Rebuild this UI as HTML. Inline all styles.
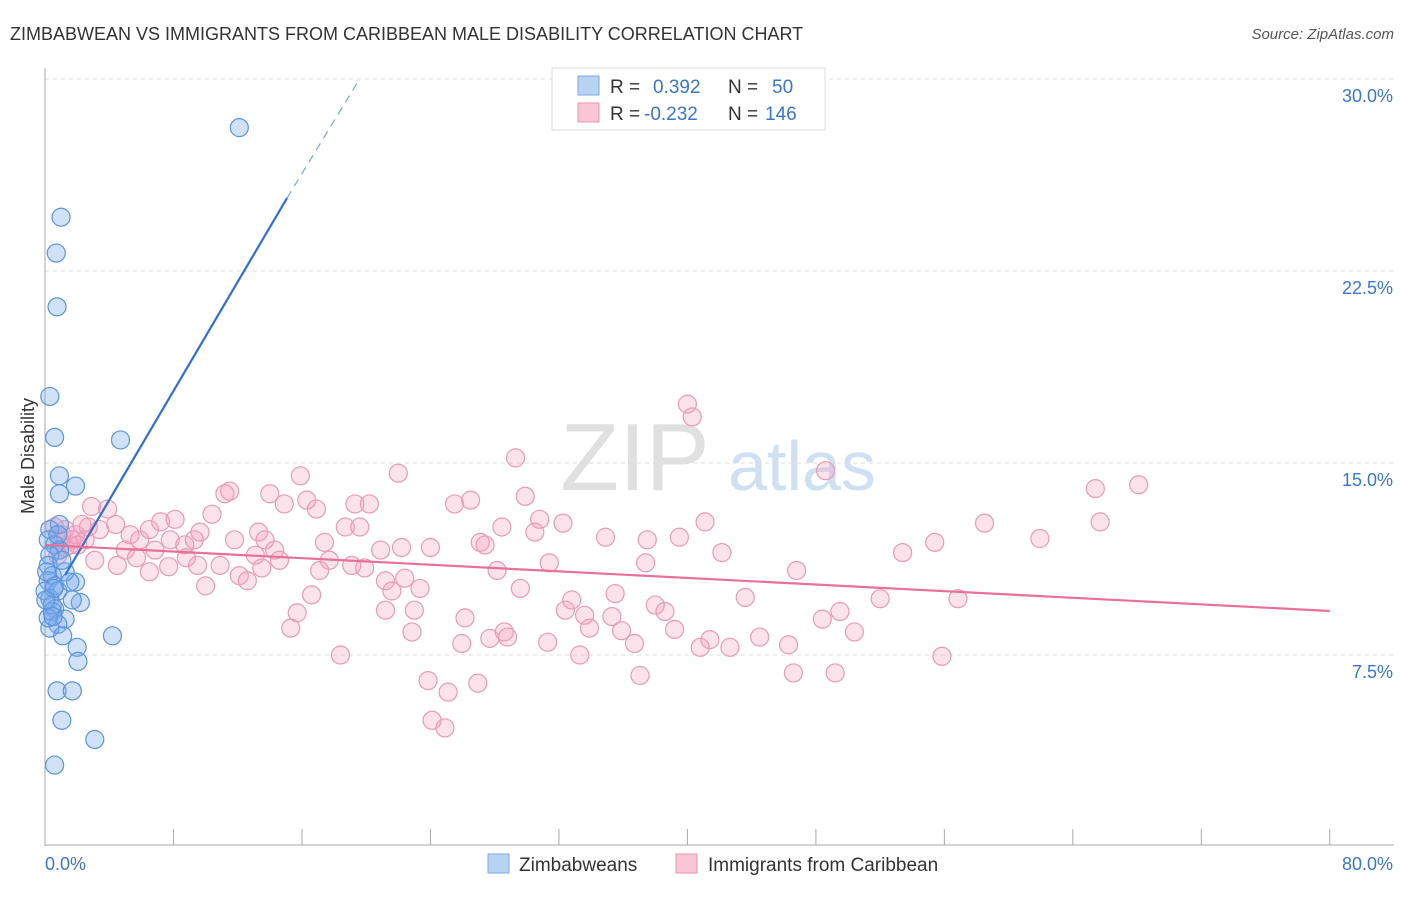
<!DOCTYPE html>
<html><head><meta charset="utf-8"><style>
body{margin:0;background:#fff;font-family:"Liberation Sans",Arial,sans-serif}
svg text{font-family:"Liberation Sans",Arial,sans-serif}
</style></head><body>
<svg id="chart" width="1406" height="892" viewBox="0 0 1406 892" xmlns="http://www.w3.org/2000/svg">
<text x="10" y="40" font-size="18" fill="#333">ZIMBABWEAN VS IMMIGRANTS FROM CARIBBEAN MALE DISABILITY CORRELATION CHART</text>
<text x="1394" y="39" font-size="15" fill="#555" text-anchor="end" font-style="italic">Source: ZipAtlas.com</text>
<g>
<text x="635" y="490" font-size="96" fill="#e0e0e0" font-family="Liberation Serif,serif" text-anchor="middle">ZIP</text>
<text x="802" y="490" font-size="70" fill="#cfe0f3" text-anchor="middle">atlas</text>
</g>
<g id="grid"></g>
<g id="axes"></g>
<g id="pts"></g>
<g id="lines"></g>
<text transform="translate(34,456) rotate(-90)" font-size="18" fill="#333" text-anchor="middle">Male Disability</text>
<g>
<rect x="552" y="68" width="273" height="62" fill="#fff" stroke="#ddd"/>
<rect x="578" y="76" width="21" height="19" fill="#b9d3f5" stroke="#7aa9e6"/>
<rect x="578" y="103" width="21" height="19" fill="#f9c6d5" stroke="#eb93b0"/>
<text x="610" y="93" font-size="19" fill="#333">R =</text>
<text x="653" y="93" font-size="19" fill="#3a76d0">0.392</text>
<text x="728" y="93" font-size="19" fill="#333">N =</text>
<text x="772" y="93" font-size="19" fill="#3a76d0">50</text>
<text x="610" y="120" font-size="19" fill="#333">R =</text>
<text x="644" y="120" font-size="19" fill="#3a76d0">-0.232</text>
<text x="728" y="120" font-size="19" fill="#333">N =</text>
<text x="765" y="120" font-size="19" fill="#3a76d0">146</text>
</g>
<g>
<rect x="488" y="854" width="21" height="19" fill="#b9d3f5" stroke="#7aa9e6"/>
<text x="519" y="871" font-size="19" fill="#333">Zimbabweans</text>
<rect x="676" y="854" width="21" height="19" fill="#f9c6d5" stroke="#eb93b0"/>
<text x="708" y="871" font-size="19" fill="#333">Immigrants from Caribbean</text>
</g>
</svg>
<script>
const yTicks=[7.5,15,22.5,30];
const yTickLabels=["7.5%","15.0%","22.5%","30.0%"];
const xTicks=[0,8,16,24,32,40,48,56,64,72,80];
const xTickLabels=["0.0%","80.0%"];
const blueX=[12.1,1.0,0.7,0.75,0.3,0.6,4.7,0.9,1.9,0.9,0.9,0.3,0.2,0.6,0.9,0.3,0.2,0.45,0.2,0.6,0,0.8,1.9,1.25,1.55,0.3,0.6,0.45,1.25,0.8,0.3,2.2,1.7,0.45,1.1,2.0,2.05,4.2,0.75,1.7,1.05,3.1,0.6,0.2,0.5,1.05,0.1,0.55,0.05,0.8];
const blueY=[28.1,24.6,23.2,21.1,17.6,16.0,15.9,14.5,14.1,13.8,12.6,12.4,12.0,11.8,11.6,11.4,11.0,10.6,10.4,10.2,10.0,10.0,10.35,10.75,10.35,9.7,9.3,9.2,8.9,8.7,8.55,9.55,9.65,9.45,8.25,7.8,7.25,8.25,6.1,6.1,4.95,4.2,3.2,8.95,9.0,11.2,10.75,10.1,9.65,12.2];
const pinkX=[2.9,3.9,2.3,3.4,4.4,2.5,1.55,0.9,1.25,1.9,5.3,5.9,5.0,4.5,5.7,6.85,6.5,7.2,8.1,7.8,8.7,9.3,9.65,10.4,11.2,11.5,10.0,10.9,11.8,12.1,12.6,13.1,13.3,13.7,13.5,14.0,14.3,14.6,14.9,15.9,16.3,16.9,17.4,17.7,17.1,16.6,15.7,15.3,18.4,18.7,19.6,19.1,19.9,19.3,20.2,20.9,21.2,21.6,21.2,22.0,22.2,22.4,23.0,22.85,23.35,24.0,23.85,24.1,24.9,25.1,25.5,26.5,26.15,25.95,26.95,27.1,27.4,27.7,28.45,28.6,28.8,28.15,29.3,29.6,29.9,30.5,30.8,31.4,31.3,32.25,32.4,32.8,33.3,33.6,33.9,34.9,35.3,35.5,35.9,36.7,37.05,37.4,37.5,38.0,38.6,39.2,39.5,40.0,40.3,40.8,41.1,41.4,42.15,42.65,43.6,44.5,46.3,46.6,46.8,48.4,48.6,49.2,49.5,50.4,52.0,53.4,55.4,55.85,56.85,58.5,61.95,65.4,65.7,68.1,0.8,1.25,1.7,2.7,2.05,0.6,1.05,3.1,6.5,7.7,9.5,8.8];
const pinkY=[13.3,13.2,12.6,12.4,12.6,12.0,11.8,12.0,12.4,12.2,12.2,12.0,11.6,11.0,11.3,11.6,12.4,12.7,12.8,12.0,11.8,12.0,12.3,13.0,13.8,13.9,10.2,11.0,12.0,10.6,10.4,11.4,12.3,12.0,10.9,13.8,11.6,11.2,13.4,14.5,13.55,13.2,11.9,11.2,10.8,9.85,9.15,8.55,7.5,12.5,12.5,11.0,10.9,13.4,13.4,11.6,10.4,10.0,9.25,14.6,11.7,10.5,9.25,8.4,10.1,11.7,6.5,4.95,4.65,6.05,13.4,13.55,8.95,7.95,6.4,11.9,11.8,8.15,12.5,8.4,8.2,10.8,15.2,10.1,13.7,12.3,12.8,11.1,8.0,12.65,9.25,9.65,7.5,9.05,8.55,12.1,9.0,9.9,8.45,7.95,6.7,11.1,12.0,9.45,9.2,8.5,12.1,17.3,16.8,7.8,12.7,8.1,11.5,7.8,9.75,8.2,7.9,6.8,10.8,8.9,14.7,6.8,9.2,8.4,9.7,11.5,11.9,7.45,9.7,12.65,12.05,14.0,12.7,14.15,11.4,11.7,12.0,12.5,11.8,12.5,12.2,11.2,10.75,10.95,11.0,11.3];
const blueLine=[1.25,10.62,15.07,25.35,19.43,29.84];
const pinkLine=[0,11.8,80,9.22];
const NS="http://www.w3.org/2000/svg";
const sx=v=>45+v*16.06, sy=v=>847-v*25.6;
function mk(tag,attrs,parent){const e=document.createElementNS(NS,tag);for(const k in attrs)e.setAttribute(k,attrs[k]);parent.appendChild(e);return e;}
const grid=document.getElementById('grid'),axes=document.getElementById('axes'),pts=document.getElementById('pts'),lines=document.getElementById('lines');
yTicks.forEach((t,i)=>{
 const l=mk('line',{x1:45,x2:1394,y1:sy(t),y2:sy(t),stroke:'#ddd','stroke-dasharray':'4,4'},grid);
 
 
 const tx=mk('text',{x:1393,y:sy(t)+23,'font-size':18,fill:'#3a76d0','text-anchor':'end'},axes);
 tx.textContent=yTickLabels[i];
 
 
});
const la=mk('line',{x1:45,x2:45,y1:68,y2:846,stroke:'#aaa'},axes);


const lb=mk('line',{x1:45,x2:1394,y1:845,y2:845,stroke:'#aaa'},axes);


xTicks.forEach(t=>{
 const l=mk('line',{x1:sx(t),x2:sx(t),y1:829,y2:845,stroke:'#aaa'},axes);
 
 
});
const x0=mk('text',{x:45,y:870,'font-size':18,fill:'#3a76d0'},axes);x0.textContent=xTickLabels[0];


const x1=mk('text',{x:1393,y:870,'font-size':18,fill:'#3a76d0','text-anchor':'end'},axes);x1.textContent=xTickLabels[1];


pinkX.forEach((v,i)=>{
 const c=mk('circle',{cx:sx(v),cy:sy(pinkY[i]),r:9,fill:'rgba(244,160,188,0.3)',stroke:'#eb9ab5','stroke-width':1.2},pts);
 
 
});
blueX.forEach((v,i)=>{
 const c=mk('circle',{cx:sx(v),cy:sy(blueY[i]),r:9,fill:'rgba(120,170,235,0.35)',stroke:'#5b95dd','stroke-width':1.2},pts);
 
 
});
const bl=mk('line',{x1:sx(blueLine[0]),y1:sy(blueLine[1]),x2:sx(blueLine[2]),y2:sy(blueLine[3]),stroke:'#2f6fd6','stroke-width':2.2},lines);


const bd=mk('line',{x1:sx(blueLine[2]),y1:sy(blueLine[3]),x2:sx(blueLine[4]),y2:sy(blueLine[5]),stroke:'#7aa5e0','stroke-width':1.2,'stroke-dasharray':'8,6'},lines);


const pl=mk('line',{x1:sx(pinkLine[0]),y1:sy(pinkLine[1]),x2:sx(pinkLine[2]),y2:sy(pinkLine[3]),stroke:'#e8709a','stroke-width':2.2},lines);


</script>
</body></html>
